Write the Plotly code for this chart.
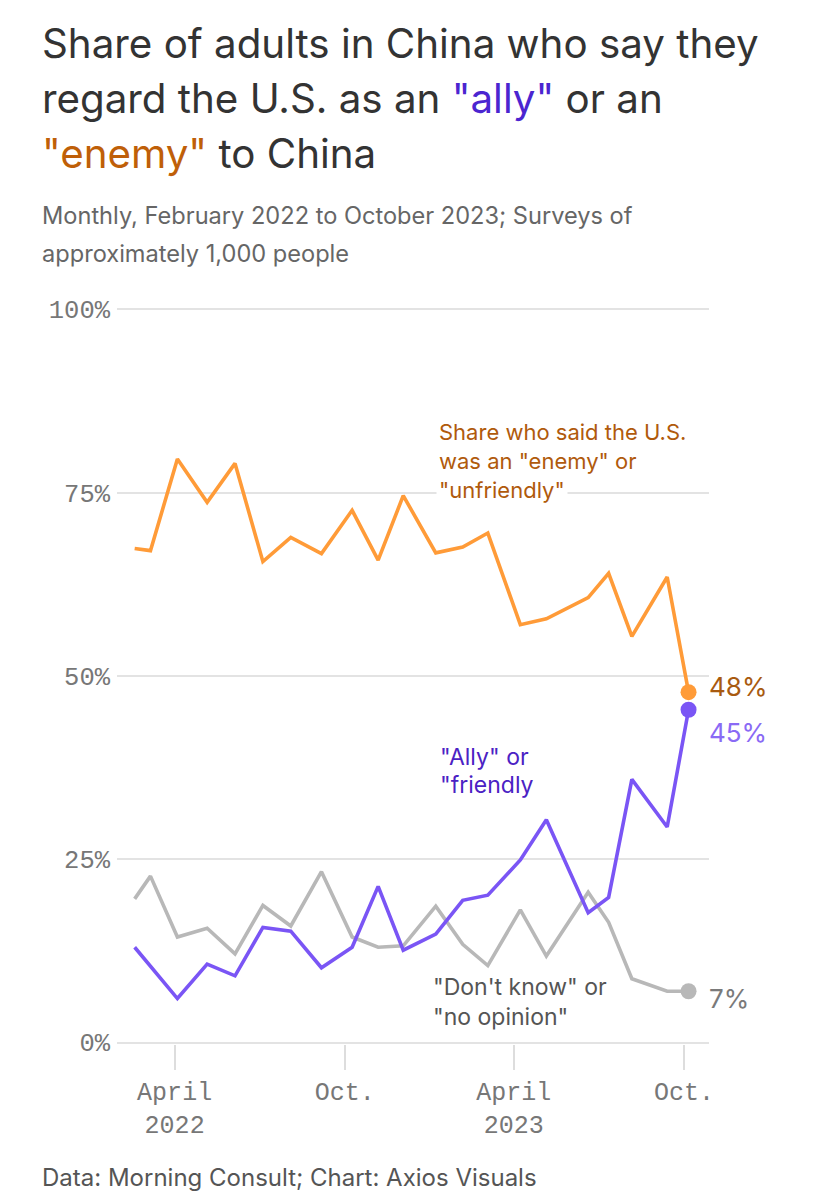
import plotly.graph_objects as go

# survey dates (approximate)
dates = ["2022-02-17", "2022-03-06", "2022-04-04", "2022-05-06", "2022-06-05",
         "2022-07-05", "2022-08-04", "2022-09-06", "2022-10-09", "2022-11-06",
         "2022-12-03", "2023-01-07", "2023-02-05", "2023-03-04", "2023-04-08",
         "2023-05-06", "2023-06-20", "2023-07-12", "2023-08-06", "2023-09-13",
         "2023-10-06"]

enemy = [67.4, 67.1, 79.6, 73.7, 79.0, 65.6, 68.9, 66.7, 72.6, 65.8, 74.6,
         66.8, 67.6, 69.5, 57.0, 57.8, 60.7, 64.0, 55.4, 63.5, 47.8]
ally = [13.0, 10.4, 6.0, 10.7, 9.1, 15.7, 15.2, 10.2, 13.0, 21.3, 12.6,
        14.8, 19.4, 20.1, 24.9, 30.4, 17.7, 19.8, 35.9, 29.4, 45.4]
dont_know = [19.6, 22.7, 14.4, 15.6, 12.1, 18.7, 15.9, 23.3, 14.4, 13.0, 13.2,
             18.6, 13.4, 10.5, 18.1, 11.8, 20.5, 16.4, 8.7, 7.0, 7.0]

y_ticks = [0, 25, 50, 75, 100]
y_labels = ["0%", "25%", "50%", "75%", "100%"]
x_ticks = ["2022-04-01", "2022-10-01", "2023-04-01", "2023-10-01"]
x_labels = ["April<br>2022", "Oct.", "April<br>2023", "Oct."]

ORANGE = "#ff9b38"
PURPLE = "#7a55f5"
GRAY = "#b8b8b8"
SANS = "Inter"
MONO = "Liberation Mono"

# plot area in screen pixels (page has an 8px body margin)
OFF = 8
L, R, T, B = 117, 709, 307.5, 1043.8


def px_x(p):
    return (p - L) / (R - L)


def px_y(p):
    return (B - p) / (B - T)


fig = go.Figure()

series = [(dont_know, GRAY), (ally, PURPLE), (enemy, ORANGE)]
for vals, col in series:
    fig.add_trace(go.Scatter(x=dates, y=vals, mode="lines",
                             line=dict(color=col, width=3.6),
                             hoverinfo="skip", showlegend=False))
    # end dot
    fig.add_trace(go.Scatter(x=[dates[-1]], y=[vals[-1]], mode="markers",
                             marker=dict(color=col, size=16),
                             cliponaxis=False, showlegend=False))

annotations = []


def text(s, x, y, size, color, font=SANS):
    annotations.append(dict(text=s, xref="paper", yref="paper",
                            x=px_x(x), y=px_y(y), xanchor="left", yanchor="middle",
                            showarrow=False, align="left",
                            font=dict(family=font, size=size, color=color)))


# title
text("Share of adults in China who say they", 40, 43, 40.3, "#333333")
text('regard the U.S. as an <span style="color:#4b25d0">"ally"</span> or an', 40, 98, 40.3, "#333333")
text('<span style="color:#bf5f08">"enemy"</span> to China', 40, 153, 40.3, "#333333")

# subtitle
text("Monthly, February 2022 to October 2023; Surveys of", 40, 215, 23.6, "#666666")
text("approximately 1,000 people", 40, 253, 23.6, "#666666")

# footer
text("Data: Morning Consult; Chart: Axios Visuals", 40, 1177, 24, "#555555")

# series labels
for i, line in enumerate(["Share who said the U.S.", 'was an "enemy" or', '"unfriendly"']):
    annotations.append(dict(text=line, xref="paper", yref="paper",
                            x=px_x(436), y=px_y(432 + 29 * i), xanchor="left", yanchor="middle",
                            showarrow=False, bgcolor="white", borderpad=2,
                            font=dict(family=SANS, size=22, color="#b05a0c")))
text('"Ally" or', 438, 757, 23, "#4b22c4")
text('"friendly', 438, 785, 23, "#4b22c4")
text('"Don\'t know" or', 431, 987, 23, "#555555")
text('"no opinion"', 431, 1017, 23, "#555555")

# end values (label offset from the dot, in px)
end_labels = [(enemy, "#a85a10", -6), (ally, "#8a6af5", 23), (dont_know, "#7a7a7a", 7)]
for vals, col, dy in end_labels:
    annotations.append(dict(text=f"{round(vals[-1])}%", x=dates[-1], y=vals[-1],
                            xref="x", yref="y", xanchor="left", yanchor="middle",
                            xshift=18, yshift=-dy, showarrow=False,
                            font=dict(family=SANS, size=26, color=col)))

fig.update_layout(
    width=832, height=1200,
    margin=dict(l=L - OFF, r=832 - (R - OFF), t=T - OFF, b=1200 - (B - OFF)),
    plot_bgcolor="white", paper_bgcolor="white",
    annotations=annotations,
    xaxis=dict(type="date", range=["2022-01-29", "2023-10-28"],
               tickvals=x_ticks, ticktext=x_labels,
               showgrid=False, zeroline=False, showline=False,
               ticks="outside", ticklen=25, tickwidth=1.5, tickcolor="#dddddd",
               tickfont=dict(family=MONO, size=25, color="#777777")),
    yaxis=dict(range=[-0.2, 100.2], tickvals=y_ticks, ticktext=y_labels,
               showgrid=True, gridcolor="#e3e3e3", gridwidth=1.5,
               zeroline=False, showline=False, ticks="", ticklabelstandoff=6,
               tickfont=dict(family=MONO, size=25.5, color="#777777")),
)

fig.write_html("out.html")
